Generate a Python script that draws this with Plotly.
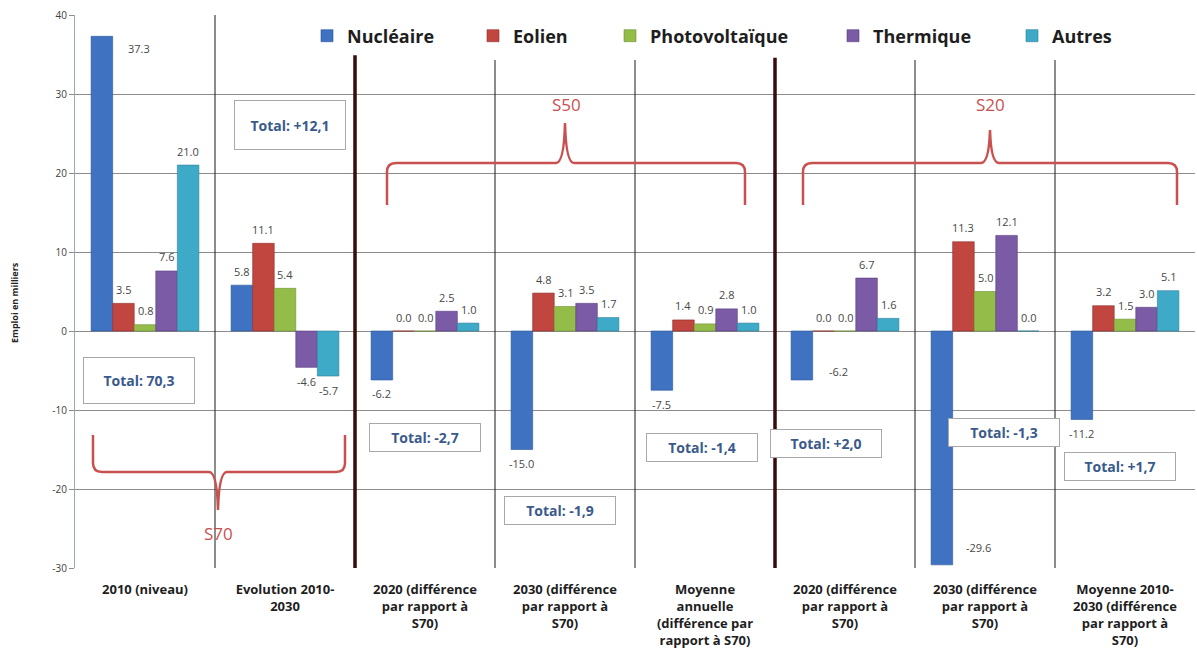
import plotly.graph_objects as go

# ---------------- data ----------------
categories = [
    "2010 (niveau)",
    "Evolution 2010-<br>2030",
    "2020 (différence<br>par rapport à<br>S70)",
    "2030 (différence<br>par rapport à<br>S70)",
    "Moyenne<br>annuelle<br>(différence par<br>rapport à S70)",
    "2020 (différence<br>par rapport à<br>S70)",
    "2030 (différence<br>par rapport à<br>S70)",
    "Moyenne 2010-<br>2030 (différence<br>par rapport à<br>S70)",
]
series_names = ["Nucléaire", "Eolien", "Photovoltaïque", "Thermique", "Autres"]
nucleaire = [37.3, 5.8, -6.2, -15.0, -7.5, -6.2, -29.6, -11.2]
eolien = [3.5, 11.1, 0.0, 4.8, 1.4, 0.0, 11.3, 3.2]
photovoltaique = [0.8, 5.4, 0.0, 3.1, 0.9, 0.0, 5.0, 1.5]
thermique = [7.6, -4.6, 2.5, 3.5, 2.8, 6.7, 12.1, 3.0]
autres = [21.0, -5.7, 1.0, 1.7, 1.0, 1.6, 0.0, 5.1]
totals = ["Total: 70,3", "Total: +12,1", "Total: -2,7", "Total: -1,9",
          "Total: -1,4", "Total: +2,0", "Total: -1,3", "Total: +1,7"]
scenario_labels = ["S70", "S50", "S20"]
y_ticks = [-30, -20, -10, 0, 10, 20, 30, 40]

# ---------------- styles ----------------
colors = ["#3F73C2", "#C0463F", "#93BD48", "#7B5BA6", "#3FAAC8"]
line_colors = ["#2A5599", "#8F2E2A", "#6E9232", "#573E7D", "#2A809A"]
values = [nucleaire, eolien, photovoltaique, thermique, autres]
BARGAP = 0.23
x_idx = list(range(len(categories)))
FONT = "Open Sans"

# plot area in pixels
L, R, T, B = 75, 2, 15, 94
W, H = 1197, 662
PW, PH = W - L - R, H - T - B


def px(xp, yp):
    return (xp - L) / PW, (H - B - yp) / PH


fig = go.Figure()
legend_text_start = [347, 513, 650, 873, 1052]
for k, (name, vals) in enumerate(zip(series_names, values)):
    lg = "legend" if k == 0 else f"legend{k+1}"
    fig.add_trace(go.Bar(
        x=x_idx, y=vals, name=name, showlegend=True,
        marker=dict(color=colors[k], line=dict(color=line_colors[k], width=0.6)),
        legend=lg, hoverinfo="y+name",
    ))

legend_layouts = {}
for k in range(5):
    lg = "legend" if k == 0 else f"legend{k+1}"
    lx, ly = px(legend_text_start[k] - 40, 36)
    legend_layouts[lg] = dict(
        x=lx, y=ly, xanchor="left", yanchor="middle", orientation="h",
        bgcolor="rgba(0,0,0,0)", borderwidth=0,
        font=dict(family=FONT, size=18, color="#1E1E1E", weight="bold"),
    )

annotations = []
# data labels
bw = (1 - BARGAP) / 5
special = {(0, 0): (37, -12), (0, 5): (37, 8), (0, 6): (37, 17)}
for k, vals in enumerate(values):
    for i, v in enumerate(vals):
        xs, ys = special.get((k, i), (0, 14 if v >= 0 else -14))
        annotations.append(dict(
            x=i + (k - 2) * bw, y=v, xref="x", yref="y",
            xanchor="center", yanchor="middle",
            text=f"{v:.1f}", showarrow=False, xshift=xs, yshift=ys,
            font=dict(family=FONT, size=11, color="#474747"),
        ))

# total boxes: (xshift px, y data, height)
total_pos = [(-6, -6.3, 41), (5, 26.1, 44), (0, -13.5, 23), (-5, -22.7, 23),
             (-3, -14.8, 23), (-19, -14.2, 23), (19, -12.8, 23), (-5, -17.2, 23)]
for i, t in enumerate(totals):
    xs, yv, hh = total_pos[i]
    annotations.append(dict(
        x=i, y=yv, xref="x", yref="y", xshift=xs, text=f"<b>{t}</b>",
        xanchor="center", yanchor="middle",
        showarrow=False, width=106, height=hh, borderpad=2,
        bordercolor="#A8A8A8", borderwidth=1, bgcolor="white",
        font=dict(family=FONT, size=14, color="#3A5A8C"),
    ))

# scenario labels
scen_pos = [(218, 533), (566, 104), (990, 105)]
for lab, (sx, sy) in zip(scenario_labels, scen_pos):
    xx, yy = px(sx, sy)
    annotations.append(dict(
        x=xx, y=yy, xref="paper", yref="paper", text=lab, showarrow=False,
        xanchor="center", yanchor="middle",
        font=dict(family=FONT, size=17, color="#C8504F"),
    ))

# y axis title
tx, ty = px(15, 303)
annotations.append(dict(
    x=tx, y=ty, xref="paper", yref="paper", text="<b>Emploi en milliers</b>",
    xanchor="center", yanchor="middle",
    textangle=-90, showarrow=False,
    font=dict(family=FONT, size=9, color="#222222"),
))

shapes = []
# white band hiding the top gridline behind the legend
x0, y0 = px(267, 30)
x1, y1 = px(1165, 0)
shapes.append(dict(type="rect", xref="paper", yref="paper", x0=x0, x1=x1,
                   y0=y0, y1=y1, fillcolor="white", line=dict(width=0),
                   layer="between"))

# separators
sep = [(0.5, 40, "thin"), (1.5, 34.9, "thick"), (2.5, 34.3, "thin"),
       (3.5, 34.3, "thin"), (4.5, 34.6, "thick"), (5.5, 34.3, "thin"),
       (6.5, 34.3, "thin")]
for xv, ytop, kind in sep:
    shapes.append(dict(
        type="line", xref="x", yref="y", x0=xv, x1=xv, y0=-30, y1=ytop,
        line=dict(color="#3B0A0A" if kind == "thick" else "#1A1A1A",
                  width=3.5 if kind == "thick" else 1),
        layer="above",
    ))


def brace(x0, x1, xm, y_end, y_base, y_tip):
    s = 1 if y_end > y_base else -1
    r = 9
    pts = [
        ("M", [(x0, y_end)]),
        ("L", [(x0, y_base + s * r)]),
        ("Q", [(x0, y_base), (x0 + r, y_base)]),
        ("L", [(xm - 9, y_base)]),
        ("Q", [(xm - 1, y_base), (xm, y_tip)]),
        ("Q", [(xm + 1, y_base), (xm + 9, y_base)]),
        ("L", [(x1 - r, y_base)]),
        ("Q", [(x1, y_base), (x1, y_base + s * r)]),
        ("L", [(x1, y_end)]),
    ]
    out = []
    for cmd, plist in pts:
        coords = " ".join("%.5f,%.5f" % px(a, b) for a, b in plist)
        out.append(f"{cmd} {coords}")
    return " ".join(out)


for (bx0, bx1, bxm, ye, yb, yt) in [(93, 345, 218, 435, 472, 510),
                                    (387, 745, 565, 205, 163, 123),
                                    (803, 1177, 990, 205, 163, 130)]:
    shapes.append(dict(type="path", xref="paper", yref="paper",
                       path=brace(bx0, bx1, bxm, ye, yb, yt),
                       line=dict(color="#C8504F", width=2.5), layer="above"))

fig.update_layout(
    width=W, height=H, showlegend=True,
    margin=dict(l=L, r=R, t=T, b=B, autoexpand=False),
    paper_bgcolor="white", plot_bgcolor="white",
    barmode="group", bargap=BARGAP, bargroupgap=0,
    xaxis=dict(
        range=[-0.5, 7.5], tickmode="array", tickvals=x_idx, ticktext=categories,
        showgrid=False, zeroline=False, showline=False, ticks="",
        ticklabelstandoff=12,
        tickfont=dict(family=FONT, size=13, color="#1E1E1E", weight="bold"),
        fixedrange=True,
    ),
    yaxis=dict(
        range=[-30, 40], tickmode="array", tickvals=y_ticks,
        ticktext=[str(v) for v in y_ticks],
        showgrid=True, gridcolor="#8C8C8C", gridwidth=1,
        zeroline=True, zerolinecolor="#8C8C8C", zerolinewidth=1,
        showline=True, linecolor="#9AA8B8", linewidth=1,
        ticks="outside", ticklen=5, tickcolor="#8C8C8C",
        tickfont=dict(family=FONT, size=10, color="#404040"),
        fixedrange=True,
    ),
    annotations=annotations, shapes=shapes,
    **legend_layouts,
)

fig.write_html(
    "out.html",
    config={"displayModeBar": False},
    post_script="document.body.style.margin='0';document.body.style.overflow='hidden';",
)
